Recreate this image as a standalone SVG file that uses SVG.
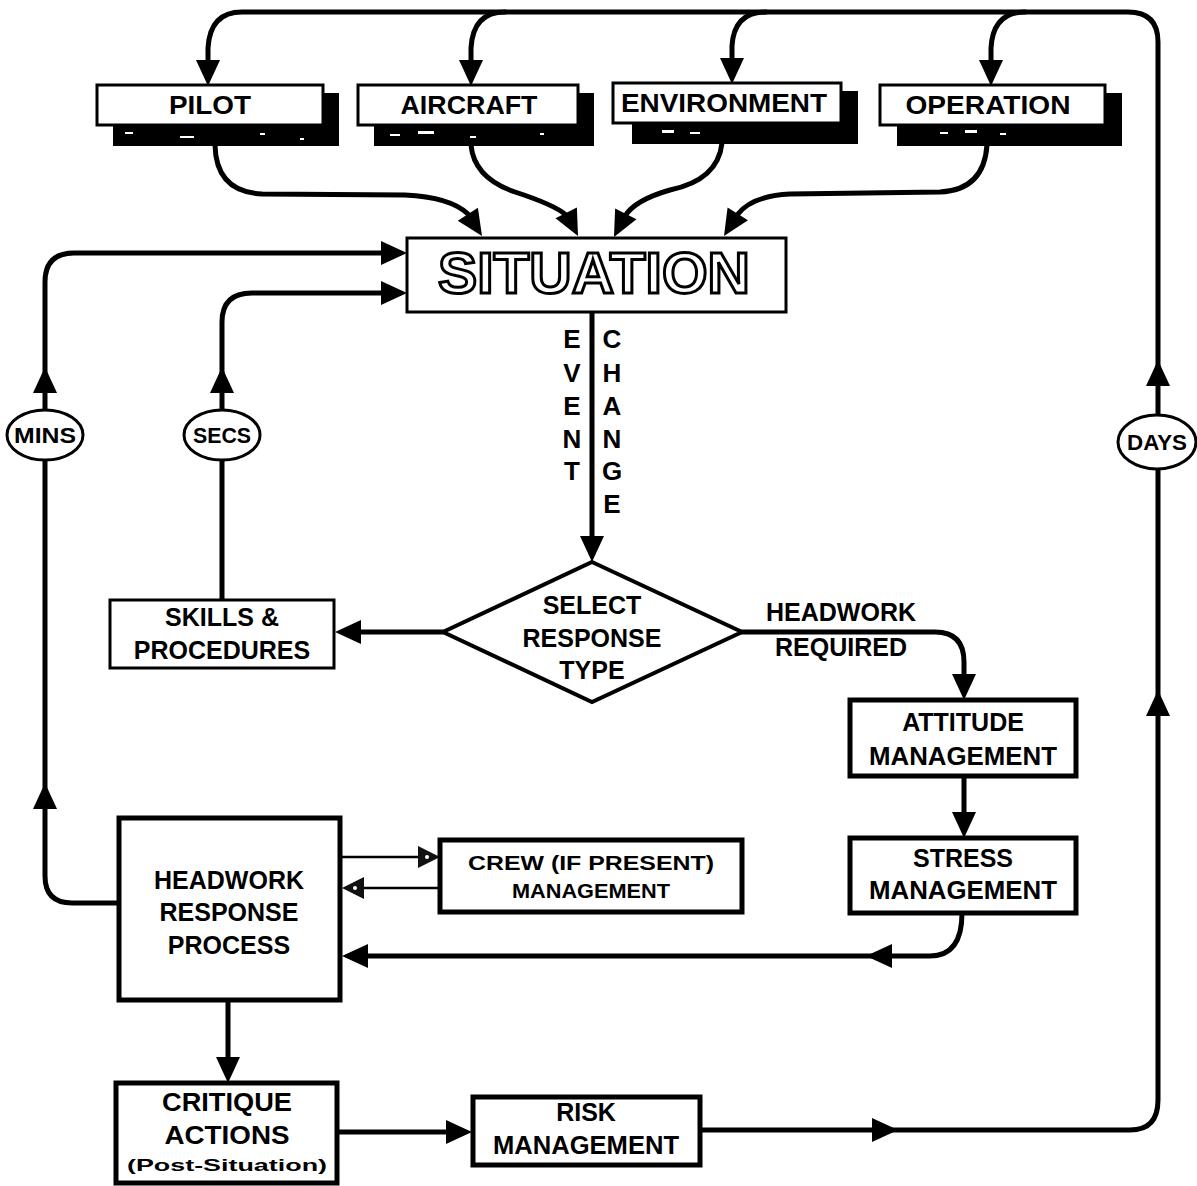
<svg xmlns="http://www.w3.org/2000/svg" width="1197" height="1186" viewBox="0 0 1197 1186">
<style>
text{font-family:"Liberation Sans",Arial,sans-serif;font-weight:bold;fill:#000;text-anchor:middle}
.lbl{font-size:25px}
.top{font-size:25px}
.sm{font-size:21px}
.let{font-size:26px}
.ov{font-size:22px}
.box{fill:#fff;stroke:#000;stroke-width:3}
.tbox{fill:#fff;stroke:#000;stroke-width:5}
.shadow{fill:#000}
.speck{fill:#fff}
.ln{fill:none;stroke:#000;stroke-width:5;stroke-linecap:round;stroke-linejoin:round}
.thin{fill:none;stroke:#000;stroke-width:2.5}
.oval{fill:#fff;stroke:#000;stroke-width:3}
</style>
<defs>
<path id="ah" d="M0,0 L-26,-12 L-26,12 Z"/>
</defs>

<g id="connectors">
  <!-- outer loop: risk -> days -> top distribution -->
  <path class="ln" d="M700,1130 L1130,1130 Q1158,1130 1158,1100 L1158,42 Q1158,12 1128,12 L242,12 Q210,12 208,48 L208,62"/>
  <path class="ln" d="M505,12 Q473,12 471,48 L471,62"/>
  <path class="ln" d="M766,12 Q734,12 732,46 L732,60"/>
  <path class="ln" d="M1025,12 Q993,12 991,48 L991,62"/>
  <use href="#ah" transform="translate(208,86) rotate(90)"/>
  <use href="#ah" transform="translate(471,86) rotate(90)"/>
  <use href="#ah" transform="translate(732,84) rotate(90)"/>
  <use href="#ah" transform="translate(991,86) rotate(90)"/>
  <use href="#ah" transform="translate(1158,360) rotate(-90)"/>
  <use href="#ah" transform="translate(1158,690) rotate(-90)"/>
  <use href="#ah" transform="translate(898,1130)"/>

  <!-- top boxes to SITUATION -->
  <path class="ln" d="M215,145 Q216,192 262,194 L405,195 Q450,197 468,214"/>
  <use href="#ah" transform="translate(482,236) rotate(57)"/>
  <path class="ln" d="M471,145 Q474,178 515,192 Q555,205 566,215"/>
  <use href="#ah" transform="translate(578,236) rotate(63)"/>
  <path class="ln" d="M722,143 Q718,180 670,190 Q635,200 625,216"/>
  <use href="#ah" transform="translate(614,237) rotate(117)"/>
  <path class="ln" d="M987,145 Q984,190 940,192 L790,194 Q752,196 738,214"/>
  <use href="#ah" transform="translate(724,236) rotate(122)"/>

  <!-- MINS loop -->
  <path class="ln" d="M118,903 L72,903 Q45,903 45,876 L45,282 Q45,253 74,253 L385,253"/>
  <use href="#ah" transform="translate(407,253)"/>
  <use href="#ah" transform="translate(45,367) rotate(-90)"/>
  <use href="#ah" transform="translate(45,783) rotate(-90)"/>

  <!-- SECS loop -->
  <path class="ln" d="M222,600 L222,322 Q222,293 252,293 L385,293"/>
  <use href="#ah" transform="translate(407,293)"/>
  <use href="#ah" transform="translate(222,367) rotate(-90)"/>

  <!-- event/change -->
  <path class="ln" d="M592,313 L592,540"/>
  <use href="#ah" transform="translate(592,562) rotate(90)"/>

  <!-- diamond to skills -->
  <path class="ln" d="M443,632 L355,632"/>
  <use href="#ah" transform="translate(335,632) rotate(180)"/>

  <!-- headwork required -->
  <path class="ln" d="M742,632 L935,632 Q964,632 964,662 L964,676"/>
  <use href="#ah" transform="translate(964,700) rotate(90)"/>

  <!-- attitude to stress -->
  <path class="ln" d="M964,776 L964,815"/>
  <use href="#ah" transform="translate(964,838) rotate(90)"/>

  <!-- stress to headwork -->
  <path class="ln" d="M962,913 Q962,956 930,956 L360,956"/>
  <use href="#ah" transform="translate(342,956) rotate(180)"/>
  <use href="#ah" transform="translate(866,956) rotate(180)"/>

  <!-- crew arrows -->
  <path class="thin" d="M340,857 L420,857"/>
  <polygon points="440,857 418,846 418,868" fill="#111"/>
  <circle cx="427" cy="857" r="2" fill="#fff"/>
  <path class="thin" d="M440,888 L362,888"/>
  <polygon points="342,888 364,877 364,899" fill="#111"/>
  <circle cx="355" cy="888" r="2" fill="#fff"/>

  <!-- headwork to critique -->
  <path class="ln" d="M228,1000 L228,1060"/>
  <use href="#ah" transform="translate(228,1083) rotate(90)"/>

  <!-- critique to risk -->
  <path class="ln" d="M337,1132 L450,1132"/>
  <use href="#ah" transform="translate(472,1132)"/>
</g>

<g id="node-pilot">
  <rect class="shadow" x="113" y="93" width="226" height="53"/>
  <rect class="speck" x="125" y="132" width="8" height="2"/><rect class="speck" x="180" y="136" width="14" height="2"/><rect class="speck" x="260" y="133" width="5" height="2"/><rect class="speck" x="300" y="138" width="4" height="2"/>
  <rect class="box" x="97" y="85" width="226" height="40"/>
  <text class="top" x="210" y="114" textLength="82" lengthAdjust="spacingAndGlyphs">PILOT</text>
</g>
<g id="node-aircraft">
  <rect class="shadow" x="374" y="93" width="220" height="53"/>
  <rect class="speck" x="390" y="134" width="10" height="2"/><rect class="speck" x="418" y="131" width="16" height="3"/><rect class="speck" x="470" y="136" width="6" height="2"/><rect class="speck" x="540" y="133" width="4" height="2"/>
  <rect class="box" x="358" y="85" width="220" height="40"/>
  <text class="top" x="469" y="114" textLength="137" lengthAdjust="spacingAndGlyphs">AIRCRAFT</text>
</g>
<g id="node-environment">
  <rect class="shadow" x="632" y="91" width="226" height="53"/>
  <rect class="speck" x="662" y="130" width="12" height="3"/><rect class="speck" x="690" y="132" width="10" height="2"/>
  <rect class="box" x="613" y="83" width="228" height="40"/>
  <text class="top" x="724" y="112" textLength="206" lengthAdjust="spacingAndGlyphs">ENVIRONMENT</text>
</g>
<g id="node-operation">
  <rect class="shadow" x="897" y="93" width="225" height="53"/>
  <rect class="speck" x="940" y="132" width="8" height="2"/><rect class="speck" x="965" y="130" width="12" height="3"/><rect class="speck" x="1000" y="133" width="6" height="2"/>
  <rect class="box" x="880" y="85" width="225" height="40"/>
  <text class="top" x="988" y="114" textLength="165" lengthAdjust="spacingAndGlyphs">OPERATION</text>
</g>

<g id="node-situation">
  <rect class="box" x="407" y="238" width="379" height="74"/>
  <text x="594" y="293" style="font-size:58px;fill:#fff;stroke:#000;stroke-width:3" textLength="312" lengthAdjust="spacingAndGlyphs">SITUATION</text>
</g>

<g id="label-event-change">
  <text class="let" x="572" y="348">E</text>
  <text class="let" x="572" y="382">V</text>
  <text class="let" x="572" y="415">E</text>
  <text class="let" x="572" y="448">N</text>
  <text class="let" x="572" y="480">T</text>
  <text class="let" x="612" y="348">C</text>
  <text class="let" x="612" y="382">H</text>
  <text class="let" x="612" y="415">A</text>
  <text class="let" x="612" y="448">N</text>
  <text class="let" x="612" y="480">G</text>
  <text class="let" x="612" y="513">E</text>
</g>

<g id="node-mins">
  <ellipse class="oval" cx="45" cy="435" rx="38" ry="25"/>
  <text class="ov" x="45" y="443" textLength="62" lengthAdjust="spacingAndGlyphs">MINS</text>
</g>
<g id="node-secs">
  <ellipse class="oval" cx="222" cy="435" rx="38" ry="25"/>
  <text class="ov" x="222" y="443" textLength="58" lengthAdjust="spacingAndGlyphs">SECS</text>
</g>
<g id="node-days">
  <ellipse class="oval" cx="1157" cy="442" rx="39" ry="27"/>
  <text class="ov" x="1157" y="450" textLength="60" lengthAdjust="spacingAndGlyphs">DAYS</text>
</g>

<g id="node-skills">
  <rect class="box" x="110" y="600" width="224" height="68"/>
  <text class="lbl" x="222" y="626">SKILLS &amp;</text>
  <text class="lbl" x="222" y="659">PROCEDURES</text>
</g>

<g id="node-select">
  <polygon points="592,562 742,632 592,702 443,632" style="fill:#fff;stroke:#000;stroke-width:4"/>
  <text class="lbl" x="592" y="614">SELECT</text>
  <text class="lbl" x="592" y="647">RESPONSE</text>
  <text class="lbl" x="592" y="679">TYPE</text>
</g>

<g id="label-headwork-required">
  <text class="lbl" x="841" y="621">HEADWORK</text>
  <text class="lbl" x="841" y="656">REQUIRED</text>
</g>

<g id="node-attitude">
  <rect class="tbox" x="850" y="700" width="226" height="76"/>
  <text class="lbl" x="963" y="731">ATTITUDE</text>
  <text class="lbl" x="963" y="765" textLength="188" lengthAdjust="spacingAndGlyphs">MANAGEMENT</text>
</g>

<g id="node-stress">
  <rect class="tbox" x="850" y="838" width="226" height="75"/>
  <text class="lbl" x="963" y="867">STRESS</text>
  <text class="lbl" x="963" y="899" textLength="188" lengthAdjust="spacingAndGlyphs">MANAGEMENT</text>
</g>

<g id="node-headwork">
  <rect class="tbox" x="119" y="818" width="221" height="182"/>
  <text class="lbl" x="229" y="889">HEADWORK</text>
  <text class="lbl" x="229" y="921">RESPONSE</text>
  <text class="lbl" x="229" y="954">PROCESS</text>
</g>

<g id="node-crew">
  <rect class="tbox" x="440" y="840" width="302" height="72"/>
  <text class="sm" x="591" y="870" textLength="246" lengthAdjust="spacingAndGlyphs">CREW (IF PRESENT)</text>
  <text class="sm" x="591" y="898" textLength="158" lengthAdjust="spacingAndGlyphs">MANAGEMENT</text>
</g>

<g id="node-critique">
  <rect class="tbox" x="116" y="1083" width="221" height="100"/>
  <text class="lbl" x="227" y="1111" textLength="130" lengthAdjust="spacingAndGlyphs">CRITIQUE</text>
  <text class="lbl" x="227" y="1144" textLength="125" lengthAdjust="spacingAndGlyphs">ACTIONS</text>
  <text x="227" y="1171" style="font-size:17px" textLength="200" lengthAdjust="spacingAndGlyphs">(Post-Situation)</text>
</g>

<g id="node-risk">
  <rect class="tbox" x="473" y="1097" width="227" height="68"/>
  <text class="lbl" x="586" y="1121">RISK</text>
  <text class="lbl" x="586" y="1154" textLength="186" lengthAdjust="spacingAndGlyphs">MANAGEMENT</text>
</g>
</svg>
